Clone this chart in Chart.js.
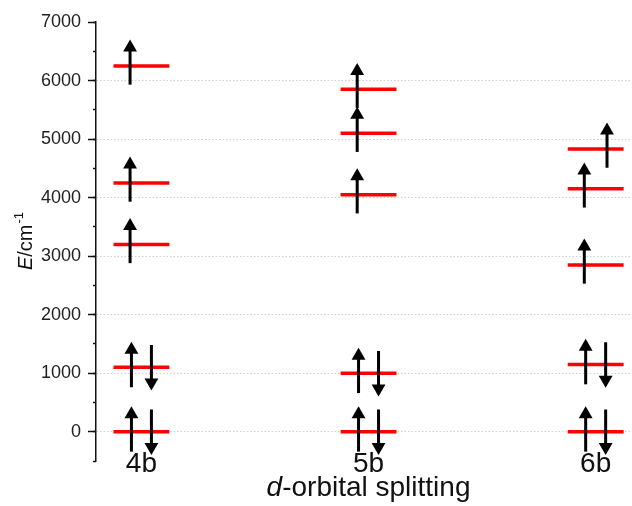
<!DOCTYPE html>
<html>
<head>
<meta charset="utf-8">
<title>d-orbital splitting</title>
<script src="https://cdn.jsdelivr.net/npm/chart.js@4.4.1/dist/chart.umd.min.js"></script>
<style>
  html, body { margin: 0; padding: 0; background: #fff; overflow: hidden; }
  canvas { display: block; }
</style>
</head>
<body>
<canvas id="myChart" width="632" height="506"></canvas>
<script>
// categories and energy levels (cm-1)
const categories = ['4b', '5b', '6b'];
const levels4b = [0, 1100, 3200, 4250, 6250];
const levels5b = [0, 1000, 4050, 5100, 5850];
const levels6b = [0, 1150, 2850, 4150, 4830];

// electrons on each level: 'ud' = paired, 'u' = single (left), 'uR' = single (right)
const spins4b = ['ud', 'ud', 'u', 'u', 'u'];
const spins5b = ['ud', 'ud', 'u', 'u', 'u'];
const spins6b = ['ud', 'ud', 'u', 'u', 'uR'];

const xTitle = ['d', '-orbital splitting'];
const yTitle = ['E', '/cm', '-1'];

const FONT = '"Liberation Sans", Arial, Helvetica, sans-serif';
const allLevels = [levels4b, levels5b, levels6b];
const allSpins = [spins4b, spins5b, spins6b];

// red level bars, one dataset with gaps
const levelData = [];
allLevels.forEach(function (lv, i) {
    lv.forEach(function (e) {
        levelData.push({ x: i + 1 - 0.123, y: e }, { x: i + 1 + 0.123, y: e }, { x: i + 1, y: null });
    });
});

// one small line dataset per arrow, head drawn as a triangle point
function arrow(x, tail, head, down) {
    return {
        data: [{ x: x, y: tail }, { x: x, y: head }],
        borderColor: '#000',
        borderWidth: 3,
        pointRadius: [0, 8],
        pointStyle: 'triangle',
        pointRotation: down ? 180 : 0,
        pointBackgroundColor: '#000',
        pointBorderWidth: 0,
        order: 0
    };
}

const arrowSets = [];
allSpins.forEach(function (sp, i) {
    sp.forEach(function (s, k) {
        const e = allLevels[i][k];
        const c = i + 1;
        if (s === 'ud') {
            arrowSets.push(arrow(c - 0.044, e - 340, e + 300, false));
            arrowSets.push(arrow(c + 0.044, e + 380, e - 260, true));
        } else if (s === 'u') {
            arrowSets.push(arrow(c - 0.05, e - 320, e + 315, false));
        } else {
            arrowSets.push(arrow(c + 0.05, e - 320, e + 315, false));
        }
    });
});

// category labels and axis titles (mixed italic), placed from the scales
const axisTitles = {
    id: 'axisTitles',
    afterDraw: function (chart) {
        const ctx = chart.ctx;
        const area = chart.chartArea;
        const xs = chart.scales.x;
        ctx.save();
        ctx.fillStyle = '#111';
        ctx.textBaseline = 'alphabetic';

        const n28 = '28px ' + FONT;
        const it28 = 'italic 28px ' + FONT;
        ctx.font = n28;
        ctx.textAlign = 'center';
        categories.forEach(function (c, i) {
            ctx.fillText(c, xs.getPixelForValue(i + 1), 472);
        });

        // x title
        ctx.textAlign = 'left';
        ctx.font = it28;
        const w1 = ctx.measureText(xTitle[0]).width;
        ctx.font = n28;
        const w2 = ctx.measureText(xTitle[1]).width;
        let x = xs.getPixelForValue(2) - (w1 + w2) / 2;
        ctx.font = it28;
        ctx.fillText(xTitle[0], x, 496);
        ctx.font = n28;
        ctx.fillText(xTitle[1], x + w1, 496);

        // y title, rotated
        ctx.translate(32, (area.top + area.bottom) / 2);
        ctx.rotate(-Math.PI / 2);
        const it20 = 'italic 20px ' + FONT;
        const n20 = '20px ' + FONT;
        const n13 = '13px ' + FONT;
        ctx.font = it20;
        const a = ctx.measureText(yTitle[0]).width;
        ctx.font = n20;
        const b = ctx.measureText(yTitle[1]).width;
        ctx.font = n13;
        const c = ctx.measureText(yTitle[2]).width;
        let p = -(a + b + c) / 2;
        ctx.font = it20;
        ctx.fillText(yTitle[0], p, 0);
        ctx.font = n20;
        ctx.fillText(yTitle[1], p + a, 0);
        ctx.font = n13;
        ctx.fillText(yTitle[2], p + a + b + 1, -9);
        ctx.restore();
    }
};

const config = {
    type: 'line',
    data: {
        datasets: arrowSets.concat([{
            data: levelData,
            borderColor: '#ff0000',
            borderWidth: 3.5,
            pointRadius: 0,
            spanGaps: false,
            order: 1
        }])
    },
    options: {
        responsive: false,
        animation: false,
        events: [],
        layout: { autoPadding: false, padding: { top: 22, right: 0, left: 0, bottom: 0 } },
        plugins: {
            legend: { display: false },
            tooltip: { enabled: false }
        },
        scales: {
            x: {
                type: 'linear',
                position: 'bottom',
                min: 0.8,
                max: 3.16,
                grid: { display: false, drawTicks: false },
                border: { display: false },
                ticks: { display: false },
                afterFit: function (s) { s.height = 45; }
            },
            y: {
                type: 'linear',
                position: 'left',
                weight: 1,
                min: -500,
                max: 7000,
                ticks: {
                    stepSize: 500,
                    font: { family: FONT, size: 18 },
                    color: '#222',
                    padding: 7,
                    callback: function (v) { return v % 1000 === 0 ? v : ''; }
                },
                grid: {
                    lineWidth: 1,
                    color: function (ctx) {
                        const v = ctx.tick && ctx.tick.value;
                        return (v % 1000 === 0 && v >= 0 && v < 7000) ? '#cfcfcf' : 'rgba(0,0,0,0)';
                    },
                    tickLength: 8,
                    tickWidth: 1.5,
                    tickColor: function (ctx) {
                        const v = ctx.tick && ctx.tick.value;
                        return v % 1000 === 0 ? '#111' : 'rgba(0,0,0,0)';
                    }
                },
                border: { color: '#111', width: 1.5, dash: [1.5, 2] },
                afterFit: function (s) { s.width = 96; }
            },
            yMinor: {
                type: 'linear',
                position: 'left',
                weight: 0,
                min: -500,
                max: 7000,
                ticks: { stepSize: 500, display: false },
                grid: {
                    drawOnChartArea: false,
                    tickLength: 3,
                    tickWidth: 1.5,
                    tickColor: '#111'
                },
                border: { display: false },
                afterFit: function (s) { s.width = 0; }
            }
        }
    },
    plugins: [axisTitles]
};

const myChart = new Chart(document.getElementById('myChart'), config);
</script>
</body>
</html>
